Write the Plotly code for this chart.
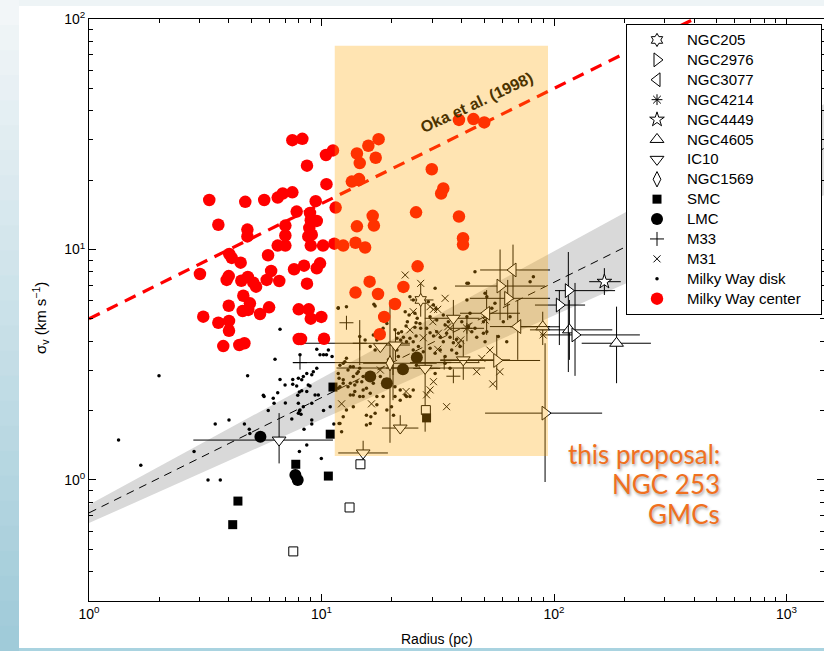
import plotly.graph_objects as go

# ---------------------------------------------------------------------------
# Values (radius in pc, sigma_v in km/s)
# ---------------------------------------------------------------------------

# Milky Way center clouds (red)
MW_CENTER = [
    (7.49, 29.8), (8.27, 30.2), (10.45, 25.7), (11.2, 26.9), (8.66, 23.1), (10.5, 19.2),
    (3.29, 16.4), (4.70, 16.1), (5.67, 16.4), (6.48, 16.8), (6.81, 17.5), (7.49, 17.7),
    (9.44, 16.2), (7.82, 14.6), (11.5, 15.2), (3.60, 12.8), (4.80, 12.2), (4.80, 11.4),
    (6.99, 12.7), (6.99, 11.5), (8.92, 14.4), (8.99, 13.4), (9.54, 13.3), (8.86, 12.4),
    (8.77, 11.4), (9.08, 11.6), (8.99, 10.4), (6.48, 10.4), (6.99, 10.4), (10.15, 10.4),
    (11.35, 10.6), (12.4, 10.4), (4.01, 9.56), (4.11, 9.19), (4.49, 8.77), (5.89, 9.44),
    (3.00, 7.83), (3.99, 7.67), (3.91, 7.38), (4.52, 7.32), (4.82, 7.60), (5.09, 7.18),
    (5.23, 6.90), (5.81, 7.38), (6.07, 8.07), (6.58, 7.30), (7.62, 8.21), (8.41, 8.51),
    (9.54, 8.29), (9.85, 8.71), (8.66, 7.11), (4.61, 6.30), (4.92, 5.84), (4.84, 5.47),
    (4.58, 5.41), (3.99, 5.70), (5.44, 5.25), (5.95, 5.61), (3.10, 5.11), (3.60, 4.81),
    (4.00, 4.90), (4.00, 4.44), (7.98, 5.50), (8.81, 5.50), (8.99, 5.01), (9.98, 5.10),
    (7.98, 4.09), (8.16, 4.09), (10.25, 4.10), (3.78, 3.81), (4.43, 3.85), (4.66, 3.92),
    (14.2, 26.1), (15.9, 28.2), (17.6, 30.1), (17.1, 25.0), (14.6, 23.7), (13.5, 19.7),
    (14.4, 20.0), (14.5, 20.2), (14.2, 12.6), (16.6, 14.0), (16.8, 12.7), (14.0, 10.7),
    (15.4, 10.2), (16.1, 7.25), (14.0, 6.50), (17.5, 6.41), (20.7, 5.80), (18.6, 5.10),
    (17.8, 4.29), (39.0, 36.5), (45.0, 36.8), (50.1, 35.6), (29.8, 22.3), (33.4, 18.4),
    (32.7, 17.5), (25.5, 14.5), (39.0, 13.9), (40.6, 11.2), (40.6, 10.5), (25.9, 8.45),
    (22.5, 6.88),
]

# Milky Way disk clouds (small black dots)
MW_DISK = [
    (1.34, 1.49), (1.67, 1.16), (2.00, 2.83), (2.83, 1.33), (3.25, 1.00), (3.67, 1.00),
    (3.49, 1.75), (4.00, 1.82), (4.66, 1.75), (4.89, 1.66), (4.92, 1.59), (4.81, 2.83),
    (5.62, 2.33), (5.66, 2.30), (5.90, 2.00), (6.20, 2.26), (6.25, 2.15), (6.31, 3.34),
    (6.48, 2.39), (6.63, 2.73), (6.63, 4.51), (6.97, 2.58), (6.99, 2.16), (7.45, 1.84),
    (7.52, 2.60), (7.52, 2.73), (7.82, 2.56), (7.90, 2.33), (7.95, 2.76), (7.95, 2.15),
    (7.95, 1.95), (8.03, 2.41), (8.03, 1.99), (8.08, 3.49), (8.08, 2.01), (8.16, 1.93),
    (8.22, 2.44), (8.22, 2.72), (8.35, 2.81), (8.35, 2.08), (8.41, 1.66), (8.64, 2.90),
    (8.64, 2.42), (8.64, 1.42), (8.77, 2.58), (8.92, 2.56), (9.08, 2.86), (9.08, 2.15),
    (9.08, 1.82), (9.08, 1.75), (9.22, 2.95), (9.38, 2.34), (9.54, 3.69), (9.54, 3.05),
    (9.69, 2.34), (9.85, 3.49), (9.98, 1.24), (10.2, 3.49), (10.2, 2.00), (10.5, 3.49),
    (10.7, 3.66), (10.9, 2.08), (11.1, 3.43), (11.3, 1.75), (11.8, 5.56), (11.8, 2.90),
    (11.9, 2.76), (11.9, 1.76), (8.03, 1.33),
    (11.8, 5.59), (16.8, 5.78), (22.9, 5.37), (23.8, 5.20), (23.4, 4.86), (23.1, 4.66),
    (25.2, 5.29), (25.8, 5.03), (25.5, 4.81), (26.5, 4.78), (25.2, 4.60), (26.7, 4.55),
    (20.7, 4.48), (21.4, 4.33), (22.1, 4.40), (21.1, 4.12), (21.9, 4.05), (22.5, 4.16),
    (23.2, 3.98), (24.0, 4.12), (24.8, 3.98), (25.5, 4.21), (28.3, 4.55), (29.3, 4.35),
    (30.3, 4.21), (31.3, 4.40), (32.4, 4.16), (33.4, 3.98), (34.5, 4.33), (35.7, 4.16),
    (36.9, 3.94), (38.1, 4.08), (39.4, 3.79), (30.8, 6.79), (31.1, 5.53), (29.3, 5.11),
    (31.3, 4.94), (33.4, 5.20), (38.1, 5.11), (40.1, 4.86), (42.2, 5.11), (43.5, 5.29),
    (42.8, 4.62), (44.3, 4.40), (45.7, 4.55), (46.5, 4.16), (49.7, 4.33), (51.4, 4.40),
    (50.5, 3.98), (54.0, 5.56), (55.7, 5.84), (49.7, 4.86), (50.5, 5.11), (42.2, 7.13),
    (42.8, 7.13), (45.7, 8.01), (50.5, 6.46), (51.4, 6.24), (57.6, 4.19), (62.6, 3.98),
    (24.0, 6.24), (24.8, 6.04), (28.8, 5.94), (30.3, 5.74), (34.0, 4.70), (35.1, 4.86),
    (42.2, 6.04), (60.5, 4.86), (64.7, 5.11), (78.9, 7.25), (81.5, 7.62),
    (12.0, 3.15), (12.6, 3.26), (13.0, 3.00), (13.7, 3.10), (14.2, 2.90), (14.6, 3.05),
    (15.1, 2.81), (12.4, 2.63), (13.0, 2.54), (13.9, 2.58), (14.9, 2.67), (15.6, 2.50),
    (11.8, 2.50), (13.7, 2.34), (15.1, 2.30), (16.7, 2.63), (17.9, 2.81), (19.4, 2.67),
    (20.7, 2.54), (21.8, 2.46), (23.2, 2.30), (24.8, 2.46), (24.8, 3.66), (26.1, 3.79),
    (27.4, 3.60), (29.3, 3.73), (30.8, 3.55), (32.4, 3.66), (34.0, 3.43), (36.3, 3.66),
    (38.1, 3.55), (25.6, 3.15), (27.9, 3.00), (30.8, 2.90), (34.0, 3.21), (35.7, 3.05),
    (21.1, 3.66), (21.4, 3.43), (19.4, 3.32), (16.7, 4.26), (17.3, 4.05), (18.4, 4.55),
    (19.1, 4.78), (12.0, 1.76), (12.2, 1.62), (12.4, 1.88), (12.8, 2.01), (13.7, 2.08),
    (15.6, 1.91), (16.3, 1.88), (15.6, 1.73), (16.2, 1.76), (17.3, 2.12), (17.0, 1.95),
    (19.1, 2.01), (20.0, 2.08), (20.4, 1.91), (21.8, 2.22), (20.7, 2.30), (22.9, 2.34),
    (24.0, 2.30), (18.4, 2.30), (17.3, 2.30), (16.2, 2.38), (13.3, 2.34), (13.9, 2.42),
    (14.6, 2.30), (15.1, 2.46), (12.0, 2.54), (12.4, 2.72), (13.3, 2.63), (12.8, 3.37),
    (12.4, 3.21), (13.3, 3.10), (14.4, 2.95), (13.7, 2.81), (14.2, 2.67), (14.6, 4.19),
    (15.4, 4.05), (16.2, 3.79), (17.0, 3.66), (12.8, 5.65), (17.0, 5.69),
]

# M31 (x symbols)
M31 = [
    (22.9, 7.75), (26.7, 7.13), (34.0, 6.14), (29.3, 5.65), (30.3, 5.50), (31.6, 5.50),
    (24.8, 5.37), (30.1, 4.86), (34.9, 4.62), (35.7, 4.55), (24.0, 4.48), (31.8, 4.33),
    (27.4, 4.14), (39.7, 4.05), (38.9, 3.91), (31.6, 3.69), (53.0, 3.66), (48.9, 3.37),
    (46.5, 2.95), (58.5, 2.95), (54.5, 2.61), (17.9, 3.00), (19.1, 2.67), (30.3, 2.67),
    (23.1, 2.42), (28.3, 2.34), (29.3, 2.46), (12.2, 2.14), (16.4, 2.14), (34.5, 2.08),
    (89.7, 4.26), (50.5, 4.94),
]

SMC_R = [11.2, 10.9, 7.75, 10.7, 4.37, 4.15, 28.3]
SMC_S = [2.53, 1.58, 1.17, 1.04, 0.81, 0.64, 1.86]
SMC_OPEN_R = [7.56, 13.2, 14.7, 28.1]
SMC_OPEN_S = [0.49, 0.76, 1.17, 2.01]

LMC_R = [5.46, 7.72, 7.90, 16.2, 19.1, 22.4, 25.7]
LMC_S = [1.54, 1.05, 1.00, 2.81, 2.63, 3.02, 3.40]

# galaxies with error bars: r, s and the ends of their error bars
M33 = dict(
    r=[12.8, 8.08, 36.9, 33.7, 14.6, 20.3],
    s=[4.81, 3.23, 2.82, 3.23, 3.92, 3.06],
    r_lo=[12.8, 7.52, 36.9, 24.0, 8.08, 11.6],
    r_hi=[12.8, 19.7, 36.9, 47.8, 24.0, 50.5],
    s_lo=[4.81, 3.23, 2.82, 3.23, 3.15, 2.22],
    s_hi=[4.81, 3.23, 2.82, 3.23, 4.94, 3.85],
)
NGC205 = dict(r=[26.7], s=[6.04], r_lo=[24.0], r_hi=[30.3], s_lo=[5.11], s_hi=[7.13])
NGC2976 = dict(
    r=[115.2, 105.4, 123.1, 58.6, 63.2, 56.7, 91.5],
    s=[6.63, 5.74, 4.26, 6.94, 6.14, 3.30, 1.95],
    r_lo=[101, 82.8, 87.1, 37.5, 43.5, 32.4, 50.5],
    r_hi=[183, 136, 234, 91.5, 96.1, 87.1, 161],
    s_lo=[2.94, 3.85, 2.83, 4.94, 4.94, 2.46, 0.98],
    s_hi=[9.75, 6.67, 7.16, 10.0, 7.38, 4.26, 3.92],
)
NGC3077 = dict(
    r=[66.6, 69.8, 51.3], s=[8.15, 4.63, 5.29],
    r_lo=[48.1, 53.0, 39.4], r_hi=[96.1, 96.1, 71.4],
    s_lo=[6.04, 3.32, 4.26], s_hi=[10.5, 6.04, 6.67],
)
NGC4214 = dict(r=[42.2], s=[4.55], r_lo=[36.0], r_hi=[50.0], s_lo=[4.0], s_hi=[5.2])
NGC4449 = dict(r=[164.6], s=[7.25], r_lo=[141.6], r_hi=[193.6], s_lo=[6.35], s_hi=[8.3])
NGC4605 = dict(
    r=[116.4, 89.4, 185.7], s=[4.48, 4.62, 3.92],
    r_lo=[78.8, 64.7, 131.5], r_hi=[178, 106, 261],
    s_lo=[3.32, 3.85, 2.63], s_hi=[6.04, 5.37, 5.65],
)
IC10 = dict(
    r=[6.57, 21.8, 15.1, 20.8, 27.9, 36.9, 40.7, 17.9],
    s=[1.49, 1.68, 1.31, 3.85, 3.05, 5.03, 3.32, 3.79],
    r_lo=[2.81, 18.2, 11.8, 18.8, 24.8, 27.8, 32.4, 17.9],
    r_hi=[11.2, 26.1, 19.3, 24.0, 32.4, 47.8, 64.7, 17.9],
    s_lo=[1.18, 1.62, 1.13, 3.32, 1.62, 4.05, 2.72, 3.79],
    s_hi=[1.95, 1.91, 1.48, 4.48, 6.04, 6.04, 4.05, 3.79],
)
NGC1569 = dict(r=[19.7], s=[3.21], r_lo=[15.1], r_hi=[31.3], s_lo=[1.45], s_hi=[6.04])

# reference relations, end points (x = 1 and right edge)
LARSON_R = [1.0, 1445.0]
LARSON_S = [0.72, 27.4]
LARSON_BAND_R = [1.0, 1445.0, 1445.0, 1.0]
LARSON_BAND_S = [0.78, 42.7, 17.2, 0.65]
OKA_R = [1.0, 1445.0]
OKA_S = [5.0, 190.0]

# proposed NGC 253 GMC region
BOX_R = [11.4, 94.2]
BOX_S = [1.27, 76.6]

X_TICKS = [1, 10, 100, 1000]
X_TICKTEXT = ["10<sup>0</sup>", "10<sup>1</sup>", "10<sup>2</sup>", "10<sup>3</sup>"]
Y_TICKS = [1, 10, 100]
Y_TICKTEXT = ["10<sup>0</sup>", "10<sup>1</sup>", "10<sup>2</sup>"]

# ---------------------------------------------------------------------------
FONT = "Liberation Sans, Arial, sans-serif"
W, H = 824, 651
PL, PT, PW, PH = 89, 19, 735, 582


def px(x):
    return (x - PL) / PW


def py(y):
    return 1 - (y - PT) / PH


def label(name, pad=""):
    # legend rows stay at the 13px pitch, text is drawn a bit larger
    return "<span style='font-size:15px'>%s%s</span>" % (name, pad)


def err(d):
    return dict(
        error_x=dict(type="data", symmetric=False,
                     array=[h - v for h, v in zip(d["r_hi"], d["r"])],
                     arrayminus=[v - l for l, v in zip(d["r_lo"], d["r"])],
                     color="black", thickness=1, width=0),
        error_y=dict(type="data", symmetric=False,
                     array=[h - v for h, v in zip(d["s_hi"], d["s"])],
                     arrayminus=[v - l for l, v in zip(d["s_lo"], d["s"])],
                     color="black", thickness=1, width=0),
    )


fig = go.Figure()

# Larson band and relation
fig.add_trace(go.Scatter(
    x=LARSON_BAND_R, y=LARSON_BAND_S, mode="lines", fill="toself",
    fillcolor="#d9d9d9", line=dict(width=0), showlegend=False, hoverinfo="skip",
))
fig.add_trace(go.Scatter(
    x=LARSON_R, y=LARSON_S, mode="lines",
    line=dict(color="black", width=1, dash="8px,6px"), showlegend=False,
))
fig.add_trace(go.Scatter(
    x=OKA_R, y=OKA_S, mode="lines",
    line=dict(color="#ff0000", width=3.2, dash="12px,8px"), showlegend=False,
))

# Milky Way disk
r, s = zip(*MW_DISK)
fig.add_trace(go.Scatter(
    x=r, y=s, mode="markers", name=label("Milky Way disk"), legendrank=13,
    marker=dict(size=3.5, color="black", line=dict(width=0)),
))

# M31
r, s = zip(*M31)
fig.add_trace(go.Scatter(
    x=r, y=s, mode="markers", name=label("M31"), legendrank=12,
    marker=dict(symbol="x-thin-open", size=7, color="black", line=dict(width=1, color="black")),
))

# M33
fig.add_trace(go.Scatter(
    x=M33["r"], y=M33["s"], mode="markers", name=label("M33"), legendrank=11,
    marker=dict(symbol="cross-thin-open", size=10, color="black", line=dict(width=1, color="black")),
    **err(M33),
))

# galaxies with open symbols
open_style = dict(color="white", line=dict(width=1, color="black"))
for name, d, sym, size, rank in [
    ("NGC1569", NGC1569, "diamond-tall", 11, 8),
    ("IC10", IC10, "triangle-down", 12, 7),
    ("NGC4605", NGC4605, "triangle-up", 12, 6),
    ("NGC3077", NGC3077, "triangle-left", 12, 3),
    ("NGC2976", NGC2976, "triangle-right", 12, 2),
    ("NGC4449", NGC4449, "star", 11, 5),
    ("NGC205", NGC205, "hexagram", 10, 1),
]:
    fig.add_trace(go.Scatter(
        x=d["r"], y=d["s"], mode="markers", name=label(name), legendrank=rank,
        marker=dict(symbol=sym, size=size, **open_style), **err(d),
    ))

fig.add_trace(go.Scatter(
    x=NGC4214["r"], y=NGC4214["s"], mode="markers", name=label("NGC4214"), legendrank=4,
    marker=dict(symbol="asterisk-open", size=9, color="black", line=dict(width=1, color="black")),
    **err(NGC4214),
))

# SMC / LMC
fig.add_trace(go.Scatter(
    x=SMC_OPEN_R, y=SMC_OPEN_S, mode="markers", showlegend=False,
    marker=dict(symbol="square", size=9, color="white", line=dict(width=1, color="black")),
))
fig.add_trace(go.Scatter(
    x=SMC_R, y=SMC_S, mode="markers", name=label("SMC"), legendrank=9,
    marker=dict(symbol="square", size=9, color="black"),
))
fig.add_trace(go.Scatter(
    x=LMC_R, y=LMC_S, mode="markers", name=label("LMC"), legendrank=10,
    marker=dict(symbol="circle", size=12, color="black"),
))

# Milky Way center (trailing em space widens the legend box like the original)
r, s = zip(*MW_CENTER)
fig.add_trace(go.Scatter(
    x=r, y=s, mode="markers", name=label("Milky Way center", "\u2003"), legendrank=14,
    marker=dict(size=12.5, color="#ff0000", line=dict(width=0)),
))

shapes = []
# slide background: gradient strip on the left, thin strips top / bottom
n = 26
for i in range(n):
    t = i / (n - 1)
    c = (int(242 + (160 - 242) * t), int(246 + (203 - 246) * t), int(248 + (217 - 248) * t))
    shapes.append(dict(
        type="rect", xref="paper", yref="paper", layer="below",
        x0=px(0), x1=px(19), y0=py(i * H / n), y1=py((i + 1) * H / n + 1),
        fillcolor="rgb(%d,%d,%d)" % c, line=dict(width=0),
    ))
shapes.append(dict(type="rect", xref="paper", yref="paper", layer="below",
                   x0=px(19), x1=px(W), y0=py(0), y1=py(6),
                   fillcolor="#eef4f6", line=dict(width=0)))
shapes.append(dict(type="rect", xref="paper", yref="paper", layer="below",
                   x0=px(19), x1=px(W), y0=py(648), y1=py(H),
                   fillcolor="#a9d3e0", line=dict(width=0)))
# translucent box (NGC 253 GMC range)
shapes.append(dict(type="rect", xref="x", yref="y", layer="above",
                   x0=BOX_R[0], x1=BOX_R[1], y0=BOX_S[0], y1=BOX_S[1],
                   fillcolor="rgba(255,165,0,0.30)", line=dict(width=0)))

annotations = [
    dict(text="Oka et al. (1998)", xref="paper", yref="paper", x=px(477), y=py(103),
         xanchor="center", yanchor="middle", showarrow=False, textangle=-25,
         font=dict(family=FONT, size=16, color="#4c3300", weight="bold")),
    dict(text="σ<sub>v</sub> (km s<sup>−1</sup>)", xref="paper", yref="paper",
         x=px(40), y=py(318), xanchor="center", yanchor="middle",
         showarrow=False, textangle=-90,
         font=dict(family=FONT, size=15, color="black")),
    dict(text="Radius (pc)", xref="paper", yref="paper", x=px(437), y=py(639),
         xanchor="center", yanchor="middle",
         showarrow=False, font=dict(family=FONT, size=14, color="black")),
]
for txt, yy in [("this proposal:", 454), ("NGC 253", 484), ("GMCs", 514)]:
    annotations.append(dict(
        text=txt, xref="paper", yref="paper", x=px(722), y=py(yy),
        xanchor="right", yanchor="middle", showarrow=False,
        font=dict(family="Lato, sans-serif", size=26, color="#f07020",
                  shadow="1px 2px 3px rgba(0,0,0,0.35)"),
    ))

axis_common = dict(
    type="log", showgrid=False, zeroline=False, showline=True, linecolor="black",
    linewidth=1, mirror="ticks", ticks="inside", ticklen=7, tickcolor="black",
    tickfont=dict(family=FONT, size=14, color="black"),
)
x_minor = [m * d for d in (1, 10, 100) for m in range(2, 10)]
y_minor = [m * d for d in (0.1, 1, 10) for m in range(2, 10) if m * d > 0.35]

fig.update_layout(
    width=W, height=H,
    margin=dict(l=PL, r=W - PL - PW, t=PT, b=H - PT - PH),
    paper_bgcolor="white", plot_bgcolor="white",
    xaxis=dict(range=[0, 3.161], tickmode="array", tickvals=X_TICKS, ticktext=X_TICKTEXT,
               minor=dict(tickmode="array", tickvals=x_minor, ticks="inside", ticklen=4,
                          tickcolor="black", showgrid=False),
               **axis_common),
    yaxis=dict(range=[-0.525, 2], tickmode="array", tickvals=Y_TICKS, ticktext=Y_TICKTEXT,
               minor=dict(tickmode="array", tickvals=y_minor, ticks="inside", ticklen=4,
                          tickcolor="black", showgrid=False),
               **axis_common),
    legend=dict(x=px(626), y=py(24), xanchor="left", yanchor="top",
                bgcolor="white", bordercolor="black", borderwidth=1,
                font=dict(family=FONT, size=13, color="black"),
                itemwidth=50, tracegroupgap=0),
    shapes=shapes, annotations=annotations, showlegend=True,
)

# the page body keeps its default 8px margin otherwise
fig.write_html("out.html", config={"displayModeBar": False},
               post_script="document.body.style.margin = '0';")
